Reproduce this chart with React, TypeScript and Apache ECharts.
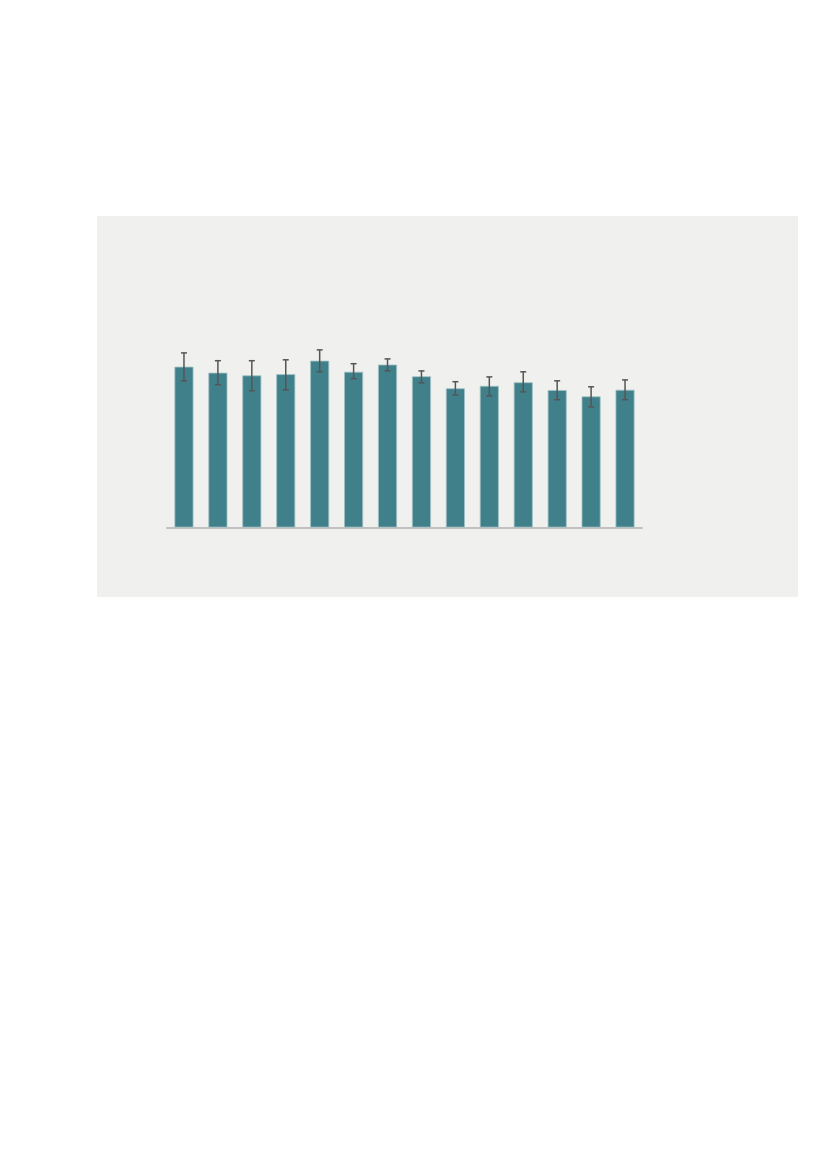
import {useEffect, useRef} from "react";
import * as echarts from "echarts";

// bar heights and error bar ends (no axis labels shown)
const categories = ["1", "2", "3", "4", "5", "6", "7", "8", "9", "10", "11", "12", "13", "14"];
const values = [53.6, 51.6, 50.7, 51.1, 55.6, 51.9, 54.3, 50.4, 46.4, 47.2, 48.4, 45.8, 43.7, 45.9];
const errLow = [48.9, 47.6, 45.6, 45.9, 51.9, 49.6, 52.2, 48.2, 44.2, 43.9, 45.2, 42.6, 40.2, 42.6];
const errHigh = [58.2, 55.6, 55.6, 55.9, 59.2, 54.6, 56.2, 52.2, 48.6, 50.2, 51.9, 48.9, 46.9, 49.2];

export default function App() {
    const domRef = useRef<HTMLDivElement>(null);

    useEffect(() => {
        if (!domRef.current) return;
        document.body.style.margin = "0";
        const chart = echarts.init(domRef.current, undefined, {renderer: "svg"});
        chart.setOption({
            animation: false,
            backgroundColor: "#ffffff",
            graphic: [{
                type: "rect",
                z: -10,
                silent: true,
                shape: {x: 97, y: 216, width: 701, height: 381},
                style: {fill: "#f0f0ee"},
            }],
            grid: {left: 167, top: 227.5, width: 475, height: 300},
            xAxis: {
                type: "category",
                data: categories,
                axisLine: {lineStyle: {color: "#c0c0c0", width: 2}},
                axisTick: {show: false},
                axisLabel: {show: false},
            },
            yAxis: {
                type: "value",
                min: 0,
                max: 100,
                show: false,
                splitLine: {show: false},
            },
            series: [
                {
                    type: "bar",
                    data: values,
                    barWidth: 19,
                    itemStyle: {color: "#40808b", borderColor: "#9fc0c4", borderWidth: 0.8},
                },
                {
                    type: "custom",
                    z: 5,
                    data: categories.map((_, i) => [i, errLow[i], errHigh[i]]),
                    renderItem: (_params: any, api: any) => {
                        const lo = api.coord([api.value(0), api.value(1)]);
                        const hi = api.coord([api.value(0), api.value(2)]);
                        const x = lo[0];
                        const w = 3;
                        const style = {stroke: "#555555", lineWidth: 1.5};
                        return {
                            type: "group",
                            children: [
                                {type: "line", shape: {x1: x, y1: lo[1], x2: x, y2: hi[1]}, style},
                                {type: "line", shape: {x1: x - w, y1: hi[1], x2: x + w, y2: hi[1]}, style},
                                {type: "line", shape: {x1: x - w, y1: lo[1], x2: x + w, y2: lo[1]}, style},
                            ],
                        };
                    },
                },
            ],
        });
        return () => chart.dispose();
    }, []);

    return <div ref={domRef} style={{width: 827, height: 1169}} />;
}
